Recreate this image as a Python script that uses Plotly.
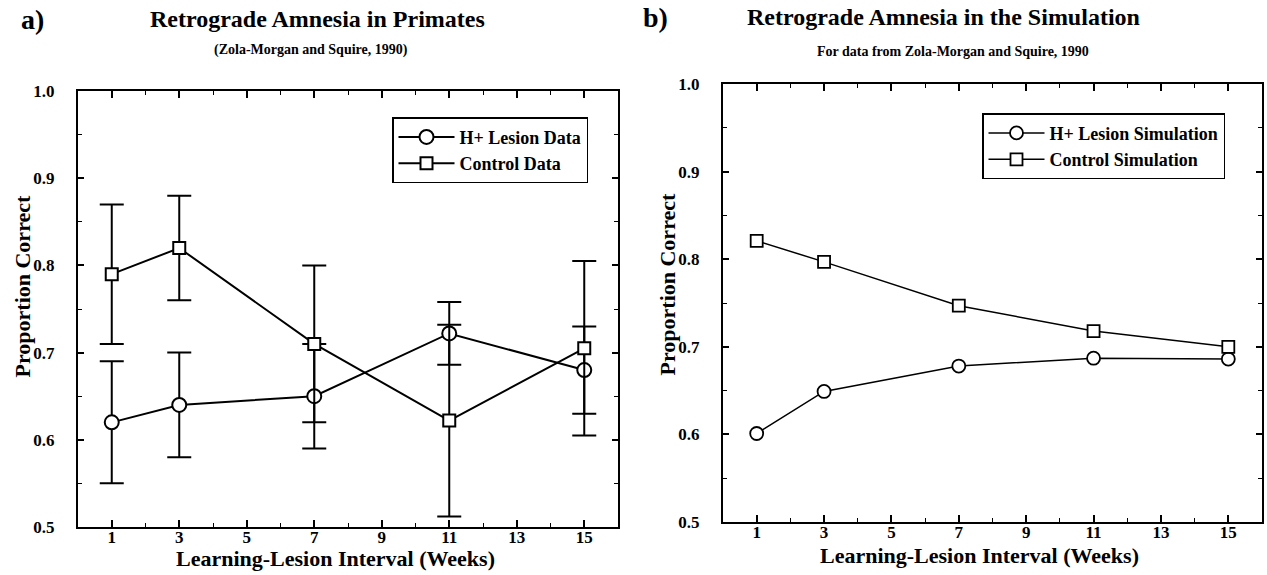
import plotly.graph_objects as go

# ---- data ----
weeks = [1, 3, 7, 11, 15]

# Panel a) Primates (Zola-Morgan and Squire, 1990)
lesion_data = [0.62, 0.64, 0.65, 0.722, 0.68]
lesion_data_err = [0.07, 0.06, 0.06, 0.036, 0.05]
control_data = [0.79, 0.82, 0.71, 0.622, 0.705]
control_data_err = [0.08, 0.06, 0.09, 0.11, 0.10]

# Panel b) Simulation
lesion_sim = [0.601, 0.649, 0.678, 0.687, 0.686]
control_sim = [0.821, 0.797, 0.747, 0.718, 0.700]

x_tick_vals = [1, 3, 5, 7, 9, 11, 13, 15]
y_tick_vals = [0.5, 0.6, 0.7, 0.8, 0.9, 1.0]

FONT = "Liberation Serif"
W, H = 1267, 575
# observed page mapping in the viewer: rendered height ~555 starting 10px down
Y_OFF, H_EFF = 10, 555

def px_x(p):
    return p / W

def px_y(p):
    return 1 - (p - Y_OFF) / H_EFF

fig = go.Figure()

fig.add_trace(go.Scatter(
    x=weeks, y=lesion_data, name="H+ Lesion Data", mode="lines+markers",
    line=dict(color="black", width=2),
    marker=dict(symbol="circle", size=14, color="white", line=dict(width=2, color="black")),
    error_y=dict(type="data", array=lesion_data_err, color="black", thickness=2, width=12),
    xaxis="x", yaxis="y", legend="legend",
))
fig.add_trace(go.Scatter(
    x=weeks, y=control_data, name="Control Data", mode="lines+markers",
    line=dict(color="black", width=2),
    marker=dict(symbol="square", size=12, color="white", line=dict(width=2, color="black")),
    error_y=dict(type="data", array=control_data_err, color="black", thickness=2, width=12),
    xaxis="x", yaxis="y", legend="legend",
))
fig.add_trace(go.Scatter(
    x=weeks, y=lesion_sim, name="H+ Lesion Simulation", mode="lines+markers",
    line=dict(color="black", width=1.5),
    marker=dict(symbol="circle", size=13, color="white", line=dict(width=1.8, color="black")),
    xaxis="x2", yaxis="y2", legend="legend2",
))
fig.add_trace(go.Scatter(
    x=weeks, y=control_sim, name="Control Simulation", mode="lines+markers",
    line=dict(color="black", width=1.5),
    marker=dict(symbol="square", size=12, color="white", line=dict(width=1.8, color="black")),
    xaxis="x2", yaxis="y2", legend="legend2",
))

tickfont = dict(family=FONT, size=17, color="black", weight="bold")

def xaxis_cfg(domain, anchor):
    return dict(
        domain=domain, anchor=anchor, range=[0, 16],
        tickvals=x_tick_vals, ticks="inside", ticklen=7, tickwidth=1.5, tickcolor="black",
        minor=dict(dtick=1, tick0=0, ticks="inside", ticklen=4, tickwidth=1.2, tickcolor="black"),
        showline=True, linecolor="black", linewidth=2, mirror="ticks",
        showgrid=False, zeroline=False, tickfont=tickfont, ticklabelstandoff=-6,
    )

def yaxis_cfg(domain, anchor):
    return dict(
        domain=domain, anchor=anchor, range=[0.5, 1.0],
        tickvals=y_tick_vals, tickformat=".1f", ticks="inside", ticklen=6, tickwidth=1.5, tickcolor="black",
        minor=dict(dtick=0.05, tick0=0.5, ticks="inside", ticklen=4, tickwidth=1.2, tickcolor="black"),
        showline=True, linecolor="black", linewidth=2, mirror="ticks",
        showgrid=False, zeroline=False, tickfont=tickfont, ticklabelstandoff=18,
    )

legend_common = dict(
    bgcolor="white", bordercolor="black", borderwidth=1.5,
    font=dict(family=FONT, size=18, color="black", weight="bold"),
    itemwidth=56, tracegroupgap=0, xanchor="left", yanchor="top",
)

fig.update_layout(
    width=W, height=H,
    margin=dict(l=0, r=0, t=0, b=0),
    paper_bgcolor="white", plot_bgcolor="white",
    font=dict(family=FONT, color="black"),
    xaxis=xaxis_cfg([px_x(78), px_x(618)], "y"),
    yaxis=yaxis_cfg([px_y(527), px_y(92)], "x"),
    xaxis2=xaxis_cfg([px_x(723), px_x(1262)], "y2"),
    yaxis2=yaxis_cfg([px_y(522), px_y(85)], "x2"),
    legend=dict(x=px_x(392), y=px_y(118), **legend_common),
    legend2=dict(x=px_x(982), y=px_y(114), **legend_common),
    showlegend=True,
)

ann = [
    dict(text="a)", x=32, y=20, size=28, angle=0),
    dict(text="Retrograde Amnesia in Primates", x=317, y=20, size=24, angle=0),
    dict(text="(Zola-Morgan and Squire, 1990)", x=311, y=51, size=14, angle=0),
    dict(text="b)", x=655, y=18, size=28, angle=0),
    dict(text="Retrograde Amnesia in the Simulation", x=944, y=18, size=24, angle=0),
    dict(text="For data from Zola-Morgan and Squire, 1990", x=953, y=52, size=14, angle=0),
    dict(text="Learning-Lesion Interval (Weeks)", x=335, y=559, size=22, angle=0),
    dict(text="Learning-Lesion Interval (Weeks)", x=979, y=556, size=22, angle=0),
    dict(text="Proportion Correct", x=22, y=287, size=22, angle=-90),
    dict(text="Proportion Correct", x=667, y=285, size=22, angle=-90),
]
for a in ann:
    fig.add_annotation(
        text=a["text"], x=px_x(a["x"]), y=px_y(a["y"]), xref="paper", yref="paper",
        xanchor="center", yanchor="middle", showarrow=False, textangle=a["angle"],
        font=dict(family=FONT, size=a["size"], color="black", weight="bold"),
    )

fig.write_html(
    "out.html",
    config={"displayModeBar": False},
    post_script="document.body.style.margin='0px';",
)
